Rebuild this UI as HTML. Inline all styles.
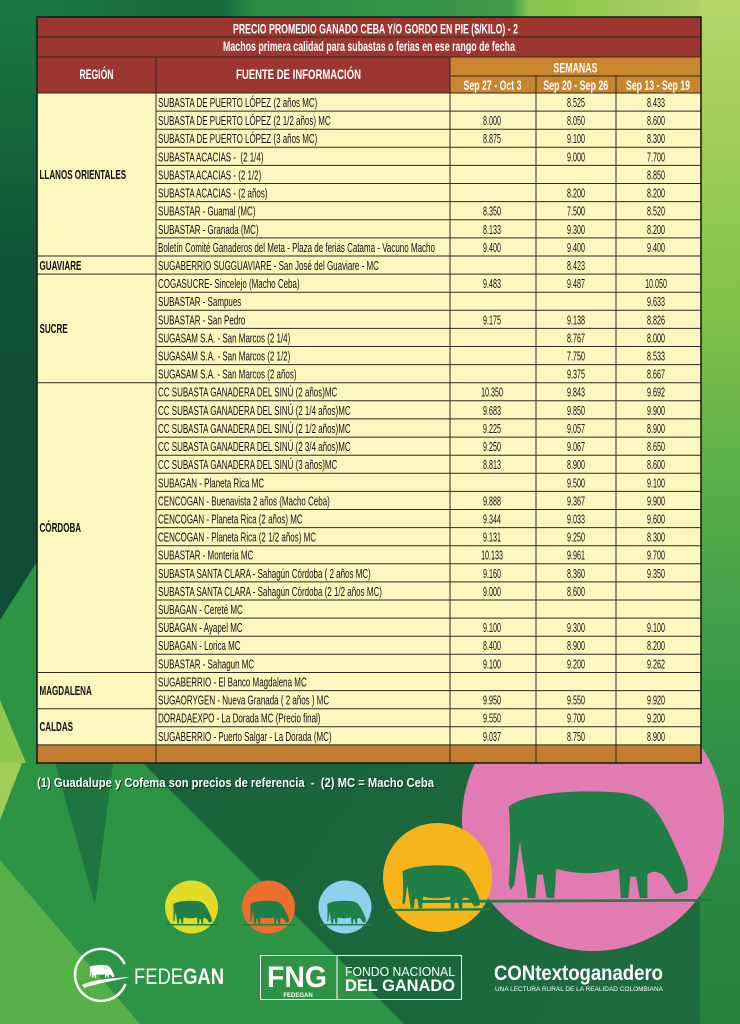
<!DOCTYPE html>
<html><head><meta charset="utf-8">
<style>
html,body{margin:0;padding:0;width:740px;height:1024px;overflow:hidden;background:#17603c}
svg{display:block}
text{font-family:"Liberation Sans",Arial,sans-serif}
</style></head><body>
<svg width="740" height="1024" viewBox="0 0 740 1024" xmlns="http://www.w3.org/2000/svg">
<defs>
<linearGradient id="topg" x1="0" y1="0" x2="1" y2="0">
<stop offset="0" stop-color="#1a7c42"/><stop offset=".3" stop-color="#15693e"/><stop offset=".34" stop-color="#2a8a44"/><stop offset=".69" stop-color="#3c9c48"/><stop offset=".715" stop-color="#86c452"/><stop offset=".75" stop-color="#8cc54b"/><stop offset="1" stop-color="#b8d66c"/>
</linearGradient>
<linearGradient id="rs" x1="0" y1="0" x2="0" y2="1">
<stop offset="0" stop-color="#b7d66b"/><stop offset=".28" stop-color="#86c34a"/><stop offset=".5" stop-color="#52ac48"/><stop offset=".72" stop-color="#2f9246"/><stop offset="1" stop-color="#25803f"/>
</linearGradient>
<linearGradient id="ls" x1="0" y1="0" x2="0" y2="1">
<stop offset="0" stop-color="#1a7a41"/><stop offset=".35" stop-color="#105337"/><stop offset="1" stop-color="#0e4a34"/>
</linearGradient>
<linearGradient id="bot" x1="0" y1="0" x2="1" y2="1">
<stop offset="0" stop-color="#155536"/><stop offset="1" stop-color="#1e6e3f"/>
</linearGradient>
<symbol id="cow" viewBox="0 0 100 60" preserveAspectRatio="none">
<path d="M3,12 C12,5 40,3 62,5 C71,6 77,9 81,15 C86,22 90,31 94,40 C96,44 98,50 97,55 L91,57 C88,53 86,49 84,47 C81,45 78,45 76,47 L76,59 L72,59 L70,48 L67,48 L66,59 L62,59 L61,44 C50,47 38,47 28,44 L27,59 L23,59 L21,47 L18,47 L17,59 L13,59 C12,48 10,40 9,30 C8,36 7,44 6,52 L4,55 L3,52 C4,40 4,24 3,12 Z"/>
</symbol>
</defs>

<!-- background -->
<rect x="0" y="0" width="740" height="1024" fill="url(#bot)"/>
<rect x="0" y="0" width="740" height="18" fill="url(#topg)"/>
<rect x="0" y="0" width="38" height="763" fill="url(#ls)"/>
<polygon points="0,620 38,560 38,763 0,763" fill="#2e9445"/>
<polygon points="0,700 26,763 0,800" fill="#8fc84e"/>
<rect x="700" y="0" width="40" height="1024" fill="url(#rs)"/>
<polygon points="0,763 143,763 404,1024 0,1024" fill="#2d9345"/>
<polygon points="55,763 113,763 95,905" fill="#207440"/>
<polygon points="0,763 22,763 0,820" fill="#9fcd55"/>
<polygon points="0,860 0,1024 140,1024" fill="#55b048"/>

<!-- circles -->
<circle cx="593" cy="820" r="131" fill="#e27bb2"/>
<circle cx="437.5" cy="877.5" r="54.5" fill="#f6b51a"/>
<circle cx="191.5" cy="907" r="26.5" fill="#e0dc27"/>
<circle cx="268.5" cy="907" r="26.5" fill="#ec6e2d"/>
<circle cx="345" cy="907" r="26.5" fill="#8fd0ef"/>

<!-- cows -->
<g fill="#1f7f46">
<use href="#cow" x="503" y="783" width="190" height="117"/>
<use href="#cow" x="400" y="862" width="82" height="47"/>
<use href="#cow" x="172" y="899" width="41" height="25"/>
<use href="#cow" x="249" y="899" width="41" height="25"/>
<use href="#cow" x="326" y="899" width="41" height="25"/>
<path d="M420,900 L713,899 L713,901.5 L420,903 Z"/>
<path d="M388,909 L490,908 L490,910.5 L388,911 Z"/>
<rect x="166" y="924" width="52" height="1.5"/>
<rect x="243" y="924" width="52" height="1.5"/>
<rect x="320" y="924" width="52" height="1.5"/>
</g>

<!-- table fills -->
<rect x="37" y="17" width="664" height="40" fill="#9b3630"/>
<rect x="37" y="57" width="413" height="36" fill="#9b3630"/>
<rect x="450" y="57" width="251" height="36" fill="#c8862f"/>
<rect x="37" y="93" width="664" height="652" fill="#fcf6bf"/>
<rect x="37" y="744.9" width="664" height="18.1" fill="#c27d31"/>

<!-- table lines -->
<g stroke="#2d2a22" stroke-width="1" fill="none">
<path d="M37,37H701M37,57H701M450,76H701M37,93H701"/>
<path d="M156,57V763M450,57V763M536,76V763M616,76V763"/>
<path d="M156,111.1H701M156,129.2H701M156,147.3H701M156,165.4H701M156,183.5H701M156,201.6H701M156,219.8H701M156,237.9H701M156,256H701M156,274.1H701M156,292.2H701M156,310.3H701M156,328.4H701M156,346.5H701M156,364.6H701M156,382.7H701M156,400.8H701M156,418.9H701M156,437.1H701M156,455.2H701M156,473.3H701M156,491.4H701M156,509.5H701M156,527.6H701M156,545.7H701M156,563.8H701M156,581.9H701M156,600H701M156,618.1H701M156,636.2H701M156,654.3H701M156,672.5H701M156,690.6H701M156,708.7H701M156,726.8H701M156,744.9H701"/>
<path d="M37,256H156M37,274.1H156M37,382.7H156M37,672.5H156M37,708.7H156M37,744.9H156"/>
</g>
<rect x="37" y="17" width="664" height="746" fill="none" stroke="#1d1d1d" stroke-width="1.6"/>

<!-- header text -->
<g fill="#fff">
<text x="375.5" y="33.5" text-anchor="middle" font-size="13.5" font-weight="600" textLength="285" lengthAdjust="spacingAndGlyphs">PRECIO PROMEDIO GANADO CEBA Y/O GORDO EN PIE ($/KILO) - 2</text>
<text x="369" y="51" text-anchor="middle" font-size="13.5" font-weight="600" textLength="292" lengthAdjust="spacingAndGlyphs">Machos primera calidad para subastas o ferias en ese rango de fecha</text>
<text x="96.5" y="79" text-anchor="middle" font-size="14" font-weight="bold" textLength="34" lengthAdjust="spacingAndGlyphs">REGIÓN</text>
<text x="298.5" y="79" text-anchor="middle" font-size="14" font-weight="bold" textLength="125" lengthAdjust="spacingAndGlyphs">FUENTE DE INFORMACIÓN</text>
<text x="575.5" y="72.5" text-anchor="middle" font-size="14" font-weight="bold" textLength="44" lengthAdjust="spacingAndGlyphs">SEMANAS</text>
<text x="492.5" y="90" text-anchor="middle" font-size="14" font-weight="bold" textLength="58" lengthAdjust="spacingAndGlyphs">Sep 27 - Oct 3</text>
<text x="575.7" y="90" text-anchor="middle" font-size="14" font-weight="bold" textLength="65" lengthAdjust="spacingAndGlyphs">Sep 20 - Sep 26</text>
<text x="658" y="90" text-anchor="middle" font-size="14" font-weight="bold" textLength="64" lengthAdjust="spacingAndGlyphs">Sep 13 - Sep 19</text>
</g>

<!-- region labels -->
<g font-size="13" font-weight="bold" fill="#111" transform="translate(39.5,0) scale(.62,1)">
<text y="179">LLANOS ORIENTALES</text>
<text y="270">GUAVIARE</text>
<text y="333">SUCRE</text>
<text y="532">CÓRDOBA</text>
<text y="695">MAGDALENA</text>
<text y="731">CALDAS</text>
</g>

<!-- source column -->
<g font-size="13" fill="#111" transform="translate(158,0) scale(.615,1)">
<text y="107">SUBASTA DE PUERTO LÓPEZ (2 años MC)</text>
<text y="125.1">SUBASTA DE PUERTO LÓPEZ (2 1/2 años) MC</text>
<text y="143.2">SUBASTA DE PUERTO LÓPEZ (3 años MC)</text>
<text y="161.3" xml:space="preserve">SUBASTA ACACIAS -  (2 1/4)</text>
<text y="179.4">SUBASTA ACACIAS - (2 1/2)</text>
<text y="197.5">SUBASTA ACACIAS - (2 años)</text>
<text y="215.6">SUBASTAR - Guamal (MC)</text>
<text y="233.8">SUBASTAR - Granada (MC)</text>
<text y="251.9">Boletín Comité Ganaderos del Meta - Plaza de ferias Catama - Vacuno Macho</text>
<text y="270">SUGABERRIO SUGGUAVIARE - San José del Guaviare - MC</text>
<text y="288.1">COGASUCRE- Sincelejo (Macho Ceba)</text>
<text y="306.2">SUBASTAR - Sampues</text>
<text y="324.3">SUBASTAR - San Pedro</text>
<text y="342.4">SUGASAM S.A. - San Marcos (2 1/4)</text>
<text y="360.5">SUGASAM S.A. - San Marcos (2 1/2)</text>
<text y="378.6">SUGASAM S.A. - San Marcos (2 años)</text>
<text y="396.7">CC SUBASTA GANADERA DEL SINÚ (2 años)MC</text>
<text y="414.8">CC SUBASTA GANADERA DEL SINÚ (2 1/4 años)MC</text>
<text y="432.9">CC SUBASTA GANADERA DEL SINÚ (2 1/2 años)MC</text>
<text y="451.1">CC SUBASTA GANADERA DEL SINÚ (2 3/4 años)MC</text>
<text y="469.2">CC SUBASTA GANADERA DEL SINÚ (3 años)MC</text>
<text y="487.3">SUBAGAN - Planeta Rica MC</text>
<text y="505.4">CENCOGAN - Buenavista 2 años (Macho Ceba)</text>
<text y="523.5">CENCOGAN - Planeta Rica (2 años) MC</text>
<text y="541.6">CENCOGAN - Planeta Rica (2 1/2 años) MC</text>
<text y="559.7">SUBASTAR - Monteria MC</text>
<text y="577.8">SUBASTA SANTA CLARA - Sahagún Córdoba ( 2 años MC)</text>
<text y="595.9">SUBASTA SANTA CLARA - Sahagún Córdoba (2 1/2 años MC)</text>
<text y="614">SUBAGAN - Cereté MC</text>
<text y="632.1">SUBAGAN - Ayapel MC</text>
<text y="650.2">SUBAGAN - Lorica MC</text>
<text y="668.3">SUBASTAR - Sahagun MC</text>
<text y="686.5">SUGABERRIO - El Banco Magdalena MC</text>
<text y="704.6">SUGAORYGEN - Nueva Granada ( 2 años ) MC</text>
<text y="722.7">DORADAEXPO - La Dorada MC (Precio final)</text>
<text y="740.8">SUGABERRIO - Puerto Salgar - La Dorada (MC)</text>
</g>

<!-- column 1 -->
<g font-size="13" fill="#111" text-anchor="middle" transform="translate(492,0) scale(.55,1)">
<text y="125.1">8.000</text><text y="143.2">8.875</text><text y="215.6">8.350</text><text y="233.8">8.133</text><text y="251.9">9.400</text>
<text y="288.1">9.483</text><text y="324.3">9.175</text>
<text y="396.7">10.350</text><text y="414.8">9.683</text><text y="432.9">9.225</text><text y="451.1">9.250</text><text y="469.2">8.813</text>
<text y="505.4">9.888</text><text y="523.5">9.344</text><text y="541.6">9.131</text><text y="559.7">10.133</text><text y="577.8">9.160</text><text y="595.9">9.000</text>
<text y="632.1">9.100</text><text y="650.2">8.400</text><text y="668.3">9.100</text>
<text y="704.6">9.950</text><text y="722.7">9.550</text><text y="740.8">9.037</text>
</g>
<!-- column 2 -->
<g font-size="13" fill="#111" text-anchor="middle" transform="translate(576,0) scale(.55,1)">
<text y="107">8.525</text><text y="125.1">8.050</text><text y="143.2">9.100</text><text y="161.3">9.000</text><text y="197.5">8.200</text><text y="215.6">7.500</text><text y="233.8">9.300</text><text y="251.9">9.400</text>
<text y="270">8.423</text><text y="288.1">9.487</text><text y="324.3">9.138</text><text y="342.4">8.767</text><text y="360.5">7.750</text><text y="378.6">9.375</text>
<text y="396.7">9.843</text><text y="414.8">9.850</text><text y="432.9">9.057</text><text y="451.1">9.067</text><text y="469.2">8.900</text><text y="487.3">9.500</text>
<text y="505.4">9.367</text><text y="523.5">9.033</text><text y="541.6">9.250</text><text y="559.7">9.961</text><text y="577.8">8.360</text><text y="595.9">8.600</text>
<text y="632.1">9.300</text><text y="650.2">8.900</text><text y="668.3">9.200</text>
<text y="704.6">9.550</text><text y="722.7">9.700</text><text y="740.8">8.750</text>
</g>
<!-- column 3 -->
<g font-size="13" fill="#111" text-anchor="middle" transform="translate(656,0) scale(.55,1)">
<text y="107">8.433</text><text y="125.1">8.600</text><text y="143.2">8.300</text><text y="161.3">7.700</text><text y="179.4">8.850</text><text y="197.5">8.200</text><text y="215.6">8.520</text><text y="233.8">8.200</text><text y="251.9">9.400</text>
<text y="288.1">10.050</text><text y="306.2">9.633</text><text y="324.3">8.826</text><text y="342.4">8.000</text><text y="360.5">8.533</text><text y="378.6">8.667</text>
<text y="396.7">9.692</text><text y="414.8">9.900</text><text y="432.9">8.900</text><text y="451.1">8.650</text><text y="469.2">8.600</text><text y="487.3">9.100</text>
<text y="505.4">9.900</text><text y="523.5">9.600</text><text y="541.6">8.300</text><text y="559.7">9.700</text><text y="577.8">9.350</text>
<text y="632.1">9.100</text><text y="650.2">8.200</text><text y="668.3">9.262</text>
<text y="704.6">9.920</text><text y="722.7">9.200</text><text y="740.8">8.900</text>
</g>

<!-- footnote -->
<text x="38" y="788" font-size="13" font-weight="bold" fill="#0a2a18" opacity=".85" textLength="397" lengthAdjust="spacingAndGlyphs" xml:space="preserve">(1) Guadalupe y Cofema son precios de referencia  -  (2) MC = Macho Ceba</text>
<text x="37" y="787" font-size="13" font-weight="bold" fill="#ffffff" textLength="397" lengthAdjust="spacingAndGlyphs" xml:space="preserve">(1) Guadalupe y Cofema son precios de referencia  -  (2) MC = Macho Ceba</text>

<!-- FEDEGAN logo -->
<path d="M124.6,964 A26,26 0 1 0 125.4,983.9" fill="none" stroke="#fff" stroke-width="2.5"/>
<use href="#cow" x="89" y="964" width="26" height="14" fill="#fff"/>
<path d="M82,985 C95,979 115,978 130,977 C115,981 98,983 84,988 Z" fill="#fff"/>
<text x="134" y="984" font-size="22" fill="#fff" textLength="90" lengthAdjust="spacingAndGlyphs">FEDE<tspan font-weight="bold">GAN</tspan></text>

<!-- FNG logo -->
<rect x="260.5" y="955.5" width="201" height="44" fill="none" stroke="#fff" stroke-width="1"/>
<line x1="337" y1="955" x2="337" y2="1000" stroke="#fff" stroke-width="1"/>
<text x="267" y="987" font-size="30" font-weight="bold" fill="#fff" textLength="60" lengthAdjust="spacingAndGlyphs">FNG</text>
<text x="298" y="997" text-anchor="middle" font-size="6" font-weight="bold" fill="#fff">FEDEGAN</text>
<text x="345" y="976" font-size="13" fill="#fff" textLength="110" lengthAdjust="spacingAndGlyphs">FONDO NACIONAL</text>
<text x="345" y="991" font-size="17" font-weight="bold" fill="#fff" textLength="110" lengthAdjust="spacingAndGlyphs">DEL GANADO</text>

<!-- CONtextoganadero -->
<text x="494" y="980" font-size="21" font-weight="bold" fill="#fff" textLength="169" lengthAdjust="spacingAndGlyphs">CONtextoganadero</text>
<text x="495" y="991" font-size="6" fill="#fff" textLength="168" lengthAdjust="spacingAndGlyphs">UNA LECTURA RURAL DE LA REALIDAD COLOMBIANA</text>
</svg>
</body></html>
